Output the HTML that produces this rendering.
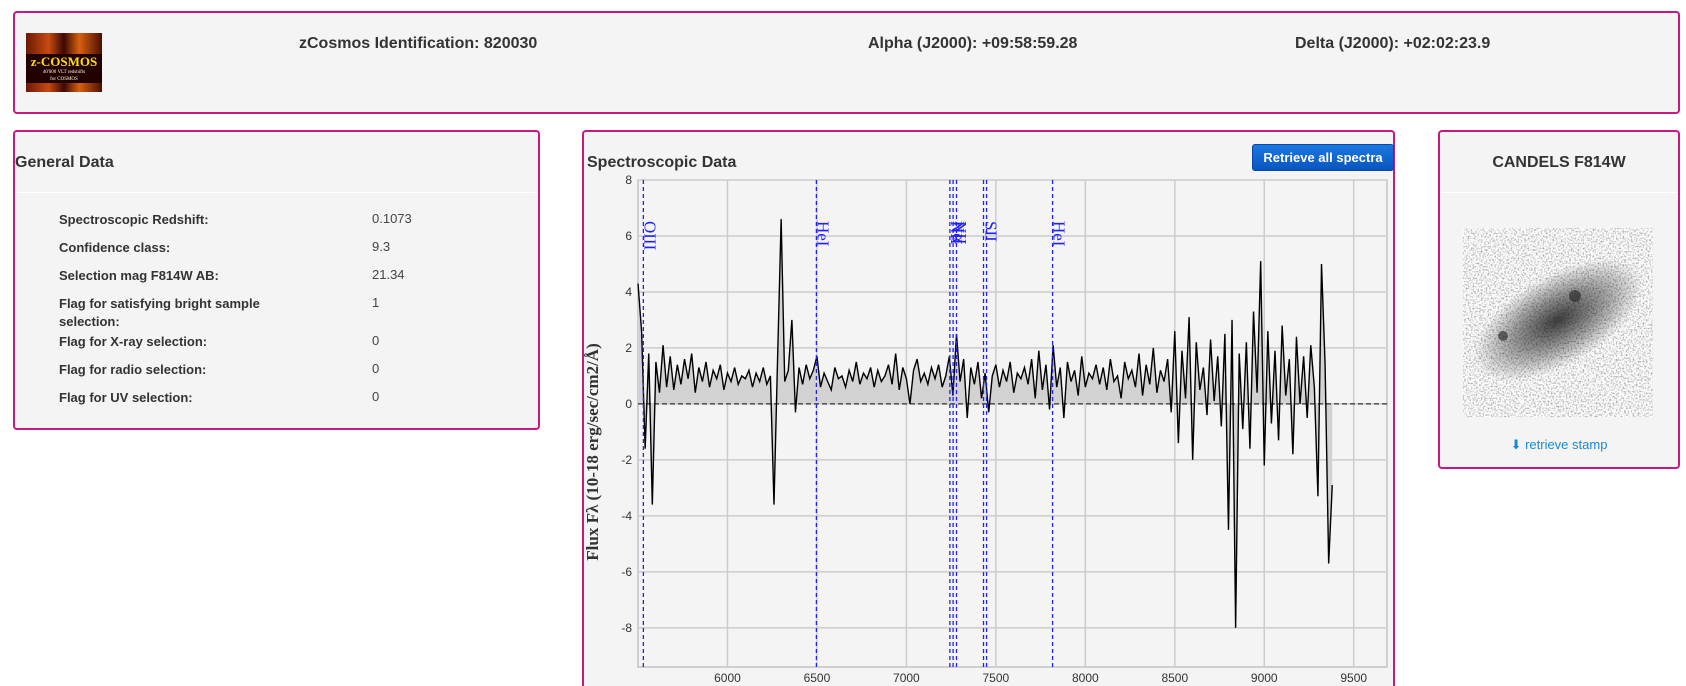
<!DOCTYPE html>
<html><head><meta charset="utf-8">
<style>
*{box-sizing:border-box;margin:0;padding:0}
html,body{width:1686px;height:686px;overflow:hidden}
body{background:#fff;font-family:"Liberation Sans",Arial,sans-serif;color:#333;position:relative}
.box{position:absolute;background:#f4f4f4;border:2px solid #c8197f;border-radius:4px}
.hd{position:absolute;font-weight:bold;font-size:16px;color:#333}
.row{position:absolute;font-size:13px;color:#333}
.lbl{font-weight:bold;left:44px;width:215px;line-height:18px}
.val{left:357px;color:#444}
</style></head><body>
<div class="box" style="left:13px;top:11px;width:1667px;height:103px">
  <div style="position:absolute;left:11px;top:20px;width:76px;height:59px;background:linear-gradient(90deg,#6a1a05,#c84a10 30%,#3a0a02 50%,#d86010 70%,#4a0f03);">
    <div style="position:absolute;top:21px;width:100%;text-align:center;font:bold 13px 'Liberation Serif',serif;color:#ffe000;background:#200">z-COSMOS</div>
    <div style="position:absolute;top:36px;width:100%;text-align:center;font:5px 'Liberation Serif',serif;color:#ffd;background:#200;line-height:7px">40'000 VLT redshifts<br>for COSMOS</div>
  </div>
  <div class="hd" style="left:284px;top:22px">zCosmos Identification: 820030</div>
  <div class="hd" style="left:853px;top:22px">Alpha (J2000): +09:58:59.28</div>
  <div class="hd" style="left:1280px;top:22px">Delta (J2000): +02:02:23.9</div>
</div>

<div class="box" style="left:13px;top:130px;width:527px;height:300px">
  <div class="hd" style="left:0;top:22px">General Data</div>
  <div style="position:absolute;left:0;right:0;top:60px;border-top:1px solid #fff"></div>
  <div class="row lbl" style="top:79px">Spectroscopic Redshift:</div><div class="row val" style="top:79px">0.1073</div>
  <div class="row lbl" style="top:107px">Confidence class:</div><div class="row val" style="top:107px">9.3</div>
  <div class="row lbl" style="top:135px">Selection mag F814W AB:</div><div class="row val" style="top:135px">21.34</div>
  <div class="row lbl" style="top:163px">Flag for satisfying bright sample selection:</div><div class="row val" style="top:163px">1</div>
  <div class="row lbl" style="top:201px">Flag for X-ray selection:</div><div class="row val" style="top:201px">0</div>
  <div class="row lbl" style="top:229px">Flag for radio selection:</div><div class="row val" style="top:229px">0</div>
  <div class="row lbl" style="top:257px">Flag for UV selection:</div><div class="row val" style="top:257px">0</div>
</div>

<div class="box" style="left:582px;top:130px;width:813px;height:556px;border-bottom:none;border-radius:4px 4px 0 0">
  <div class="hd" style="left:3px;top:22px">Spectroscopic Data</div>
  <div style="position:absolute;left:668px;top:12px;width:142px;height:27px;background:linear-gradient(#1a78e0,#0a55c0);border:1px solid #0848a8;border-radius:3px;color:#fff;font-size:13px;font-weight:bold;text-align:center;line-height:25px">Retrieve all spectra</div>
</div>

<svg id="chart" style="position:absolute;left:0;top:0" width="1686" height="686"></svg>

<div class="box" style="left:1438px;top:130px;width:242px;height:339px">
  <div class="hd" style="left:0;width:100%;text-align:center;top:22px">CANDELS F814W</div>
  <div style="position:absolute;left:0;right:0;top:60px;border-top:1px solid #fff"></div>
  <svg style="position:absolute;left:23px;top:96px" width="190" height="189">
    <defs>
      <filter id="nz" x="0" y="0" width="100%" height="100%">
        <feTurbulence type="fractalNoise" baseFrequency="0.6" numOctaves="1" seed="3" result="t"/>
        <feColorMatrix type="matrix" values="0 0 0 0 0  0 0 0 0 0  0 0 0 0 0  0 0 0 -2.2 1.25" />
      </filter>
      <radialGradient id="gal"><stop offset="0" stop-color="#000" stop-opacity="0.75"/><stop offset="0.5" stop-color="#000" stop-opacity="0.4"/><stop offset="1" stop-color="#000" stop-opacity="0"/></radialGradient>
    </defs>
    <rect width="190" height="189" fill="#fff"/>
    <rect width="190" height="189" filter="url(#nz)" opacity="0.45"/>
    <ellipse cx="95" cy="92" rx="95" ry="45" fill="url(#gal)" transform="rotate(-30 95 92)"/>
    <circle cx="112" cy="68" r="6" fill="#222" opacity="0.6"/>
    <circle cx="40" cy="108" r="5" fill="#222" opacity="0.6"/>
  </svg>
  <div style="position:absolute;left:0;width:100%;text-align:center;top:305px;font-size:13px;color:#1a8ad0">&#11015; retrieve stamp</div>
</div>

<script>
const fluxStart = 5500, fluxStep = 20;
const fluxValues = [4.3,2.6,-1.6,1.8,-3.6,1.5,0.4,2.1,0.6,1.7,
0.5,1.4,0.7,1.6,0.9,1.8,0.4,1.3,0.8,1.5,
0.6,1.2,0.9,1.4,0.5,1.1,0.8,1.3,0.7,1.0,
0.9,1.2,0.6,1.1,0.8,1.3,0.7,1.0,-3.6,1.6,
6.6,0.8,1.2,3.0,-0.3,1.3,0.7,1.4,0.9,1.2,
1.7,0.6,1.1,0.8,0.5,1.3,0.9,1.0,0.6,1.2,
0.8,1.5,0.7,1.1,0.9,1.3,0.6,1.2,0.8,1.0,
1.4,0.7,1.8,0.5,1.3,0.9,0.0,1.2,1.6,0.8,
1.1,0.7,1.3,0.9,1.4,0.6,1.0,1.7,0.3,2.5,
0.8,1.6,-0.5,1.3,0.7,1.5,0.2,1.1,-0.3,1.0,
1.4,0.6,1.2,0.8,1.5,0.4,1.1,0.9,1.3,0.7,
1.6,0.2,1.9,0.5,1.4,-0.2,2.1,0.6,1.3,-0.5,
1.5,0.8,1.2,0.3,1.7,0.6,1.1,0.9,1.4,0.7,
1.3,0.5,1.6,0.8,1.0,0.2,1.5,0.9,1.2,0.6,
1.8,0.3,1.4,0.7,2.0,0.4,1.2,0.8,1.6,-0.3,
2.6,-1.4,1.9,0.2,3.1,-2.0,2.2,0.5,1.3,-0.4,
2.3,0.1,1.7,-0.8,2.5,-4.5,3.0,-8.0,1.8,-0.9,
2.2,-1.6,3.3,0.4,5.1,-2.2,2.6,-0.7,1.9,-1.3,
2.8,0.3,1.6,-1.8,2.4,0.0,1.7,-0.5,2.1,0.6,
-3.3,5.0,1.4,-5.7,-2.9];
const xTicks = [6000,6500,7000,7500,8000,8500,9000,9500];
const yTicks = [8,6,4,2,0,-2,-4,-6,-8];
const lineWaves = [5530,6497,7243,7261,7280,7431,7448,7817];
const lineLabels = [["OIII",5536],["HeI",6503],["NII",7248],["Hα",7260],["NII",7272],["SII",7443],["HeI",7823]];

const L=638,R=1387,T=180,B=667,XMIN=5500,XMAX=9686,YMAX=8,YMIN=-9.4;
const sx=v=>L+(v-XMIN)/(XMAX-XMIN)*(R-L);
const sy=v=>T+(YMAX-v)/(YMAX-YMIN)*(B-T);
const svg=document.getElementById('chart');
const NS='http://www.w3.org/2000/svg';
function mk(tag,attrs,parent){const e=document.createElementNS(NS,tag);for(const k in attrs)e.setAttribute(k,attrs[k]);(parent||svg).appendChild(e);return e;}

const bg=mk('rect',{x:L,y:T,width:R-L,height:B-T,fill:'#f4f4f4',stroke:'#aaa'});


xTicks.forEach(t=>{
  const g=mk('line',{x1:sx(t),x2:sx(t),y1:T,y2:B,stroke:'#ccc','stroke-width':1.5});
  
  
  const tx=mk('text',{x:sx(t),y:B+15,'text-anchor':'middle','font-size':12,fill:'#333','font-family':'Liberation Sans, sans-serif'});
  tx.textContent=t;
  
  
});
yTicks.forEach(t=>{
  const g=mk('line',{x1:L,x2:R,y1:sy(t),y2:sy(t),stroke:'#ccc','stroke-width':1.5});
  
  
  const tx=mk('text',{x:L-6,y:sy(t)+4,'text-anchor':'end','font-size':12,fill:'#333','font-family':'Liberation Sans, sans-serif'});
  tx.textContent=t;
  
  
});
let pts=fluxValues.map((v,i)=>[sx(fluxStart+i*fluxStep),sy(v)]);
const lastX=sx(fluxStart+(fluxValues.length-1)*fluxStep);
const area=mk('path',{d:'M'+sx(fluxStart)+','+sy(0)+' '+pts.map(p=>'L'+p[0]+','+p[1]).join(' ')+' L'+lastX+','+sy(0)+'Z',fill:'#d2d2d2'});


const zl=mk('line',{x1:L,x2:R,y1:sy(0),y2:sy(0),stroke:'#333','stroke-dasharray':'5,3','stroke-width':1.2});


const ln=mk('polyline',{points:pts.map(p=>p.join(',')).join(' '),fill:'none',stroke:'#000','stroke-width':1.4});


lineWaves.forEach(w=>{
  const l=mk('line',{x1:sx(w),x2:sx(w),y1:T,y2:B,stroke:'#2020ff','stroke-width':1.3,'stroke-dasharray':'4,3'});
  
  
});
lineLabels.forEach(([s,w])=>{
  const y0=221;
  const tx=mk('text',{x:sx(w),y:y0,transform:'rotate(90 '+sx(w)+' '+y0+')','font-size':17,fill:'#2020ff','font-family':'Liberation Serif, serif'});
  tx.textContent=s;
  
  
});
const yt=mk('text',{x:0,y:0,transform:'translate(598 452) rotate(-90)','text-anchor':'middle','font-size':17,'font-weight':'bold',fill:'#333','font-family':'Liberation Serif, serif'});
yt.textContent='Flux Fλ (10-18 erg/sec/cm2/Å)';


</script>
</body></html>
